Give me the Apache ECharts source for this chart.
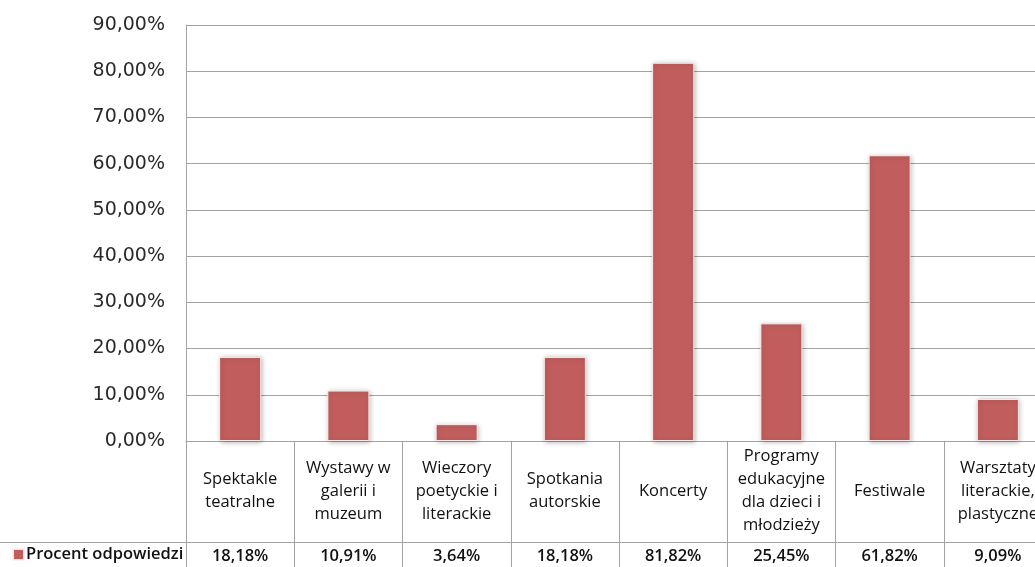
<!DOCTYPE html>
<html>
<head>
<meta charset="utf-8">
<style>
  html, body { margin: 0; padding: 0; background: #ffffff; overflow: hidden; }
  /* the plot runs past the right edge of the page; the last column is cut */
  #chart { width: 1060px; height: 567px; }
</style>
<script src="https://cdn.jsdelivr.net/npm/echarts@6/dist/echarts.min.js"></script>
</head>
<body>
<div id="chart"></div>
<script>
// Categories of cultural events and the share of answers for each
const categories = [
  'Spektakle\nteatralne',
  'Wystawy w\ngalerii i\nmuzeum',
  'Wieczory\npoetyckie i\nliterackie',
  'Spotkania\nautorskie',
  'Koncerty',
  'Programy\nedukacyjne\ndla dzieci i\nmłodzieży',
  'Festiwale',
  'Warsztaty\nliterackie,\nplastyczne'
];
const seriesName = 'Procent odpowiedzi';
const values = [18.18, 10.91, 3.64, 18.18, 81.82, 25.45, 61.82, 9.09];
const yTicks = [0, 10, 20, 30, 40, 50, 60, 70, 80, 90];

const fmtPct = v => v.toFixed(2).replace('.', ',') + '%';

const gridColor = '#a3a3a3';
const tableFont = '"Open Sans", "Noto Sans", sans-serif';

const chart = echarts.init(document.getElementById('chart'));
chart.setOption({
  animation: false,
  backgroundColor: '#ffffff',
  grid: { left: 186, top: 25, width: 866, height: 416, containLabel: false },
  legend: {
    data: [seriesName],
    left: 12,
    top: 546,
    icon: 'rect',
    itemWidth: 11,
    itemHeight: 11,
    itemGap: 4,
    padding: 0,
    textStyle: { fontFamily: tableFont, fontSize: 16.5, fontWeight: 600, color: '#111', padding: [0, 0, 0, -3] }
  },
  xAxis: [
    {
      type: 'category',
      data: categories,
      position: 'bottom',
      axisLine: { show: true, lineStyle: { color: gridColor, width: 1 } },
      axisTick: { show: true, interval: 0, length: 126, lineStyle: { color: gridColor, width: 1 } },
      axisLabel: {
        interval: 0,
        margin: 50,
        verticalAlign: 'middle',
        align: 'center',
        fontFamily: tableFont,
        fontSize: 16.5,
        fontWeight: 500,
        lineHeight: 23,
        color: '#111'
      },
      splitLine: { show: false }
    },
    {
      type: 'category',
      data: categories,
      position: 'bottom',
      offset: 101,
      axisLine: { show: false },
      axisTick: { show: false },
      axisLabel: {
        interval: 0,
        margin: 14,
        verticalAlign: 'middle',
        fontFamily: tableFont,
        fontSize: 16.5,
        fontWeight: 600,
        color: '#111',
        formatter: (v, i) => fmtPct(values[i])
      }
    }
  ],
  yAxis: {
    type: 'value',
    min: yTicks[0],
    max: yTicks[yTicks.length - 1],
    interval: yTicks[1] - yTicks[0],
    axisLine: { show: true, lineStyle: { color: gridColor, width: 1 } },
    axisTick: { show: false },
    splitLine: { show: true, lineStyle: { color: gridColor, width: 1 } },
    axisLabel: {
      margin: 21,
      fontFamily: '"DejaVu Sans", Verdana, sans-serif',
      fontSize: 19,
      color: '#2a2a2a',
      formatter: v => fmtPct(v)
    }
  },
  series: [
    {
      name: seriesName,
      type: 'bar',
      data: values,
      barWidth: 42,
      itemStyle: {
        color: '#c15e5d',
        borderColor: 'rgba(255,240,240,0.9)',
        borderWidth: 1,
        shadowBlur: 5,
        shadowColor: 'rgba(0,0,0,0.28)',
        shadowOffsetX: 1,
        shadowOffsetY: 1
      }
    }
  ],
  graphic: [
    {
      type: 'line',
      shape: { x1: 0, y1: 542.5, x2: 1060, y2: 542.5 },
      style: { stroke: gridColor, lineWidth: 1 },
      silent: true
    }
  ]
});
</script>
</body>
</html>
